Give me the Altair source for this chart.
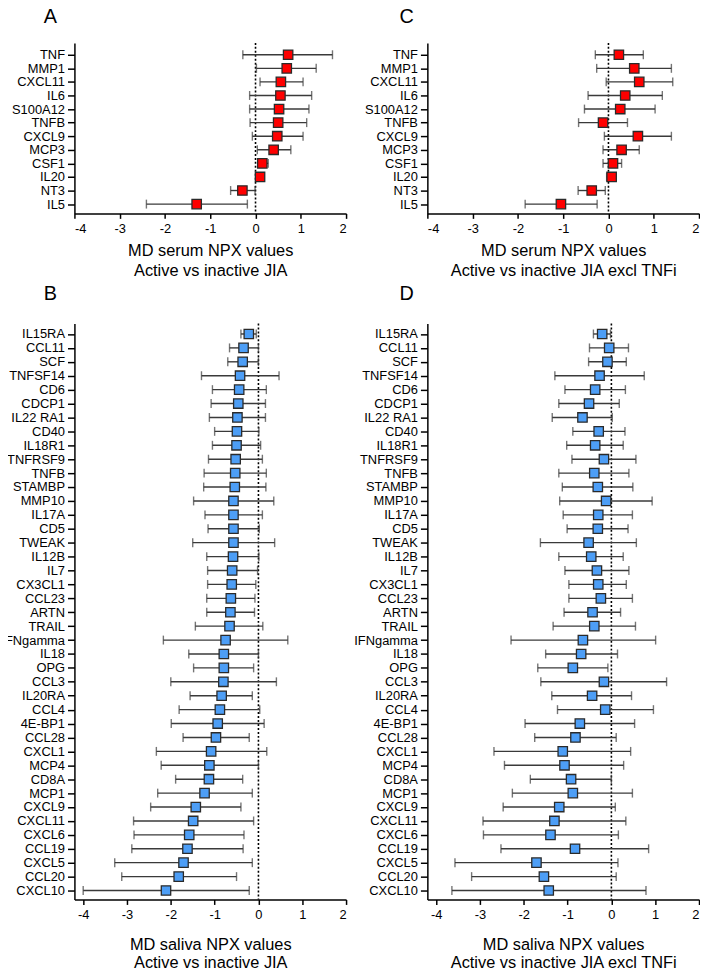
import altair as alt
import pandas as pd

# ---------------- data ----------------
serum_proteins = ["TNF", "MMP1", "CXCL11", "IL6", "S100A12", "TNFB", "CXCL9",
                  "MCP3", "CSF1", "IL20", "NT3", "IL5"]
serum_md_all = [0.72, 0.69, 0.56, 0.55, 0.52, 0.50, 0.48, 0.40, 0.15, 0.10, -0.29, -1.30]
serum_lo_all = [-0.28, 0.02, 0.10, -0.13, -0.13, -0.12, -0.07, 0.04, 0.05, 0.02, -0.55, -2.41]
serum_hi_all = [1.70, 1.34, 1.05, 1.24, 1.18, 1.13, 1.05, 0.78, 0.28, 0.17, -0.01, -0.18]

serum_md_excl = [0.23, 0.57, 0.68, 0.37, 0.26, -0.12, 0.65, 0.29, 0.10, 0.07, -0.37, -1.05]
serum_lo_excl = [-0.29, -0.26, -0.05, -0.45, -0.53, -0.66, -0.09, -0.12, -0.12, -0.04, -0.67, -1.84]
serum_hi_excl = [0.77, 1.39, 1.42, 1.19, 1.03, 0.42, 1.39, 0.68, 0.29, 0.17, -0.07, -0.25]

saliva_proteins = ["IL15RA", "CCL11", "SCF", "TNFSF14", "CD6", "CDCP1", "IL22 RA1", "CD40",
                   "IL18R1", "TNFRSF9", "TNFB", "STAMBP", "MMP10", "IL17A", "CD5", "TWEAK",
                   "IL12B", "IL7", "CX3CL1", "CCL23", "ARTN", "TRAIL", "IFNgamma", "IL18",
                   "OPG", "CCL3", "IL20RA", "CCL4", "4E-BP1", "CCL28", "CXCL1", "MCP4",
                   "CD8A", "MCP1", "CXCL9", "CXCL11", "CXCL6", "CCL19", "CXCL5", "CCL20",
                   "CXCL10"]
saliva_md_all = [-0.22, -0.34, -0.36, -0.42, -0.44, -0.46, -0.48, -0.49, -0.50, -0.52, -0.53,
                 -0.54, -0.57, -0.57, -0.57, -0.57, -0.58, -0.60, -0.61, -0.63, -0.64, -0.66,
                 -0.75, -0.79, -0.79, -0.80, -0.84, -0.88, -0.93, -0.97, -1.08, -1.12, -1.13,
                 -1.23, -1.43, -1.49, -1.58, -1.62, -1.71, -1.82, -2.11]
saliva_lo_all = [-0.40, -0.66, -0.70, -1.30, -1.05, -1.08, -1.12, -1.00, -1.05, -1.14, -1.24,
                 -1.25, -1.48, -1.22, -1.15, -1.50, -1.18, -1.16, -1.16, -1.18, -1.18, -1.44,
                 -2.17, -1.59, -1.48, -2.00, -1.56, -1.81, -1.99, -1.72, -2.33, -2.22, -1.89,
                 -2.30, -2.46, -2.85, -2.84, -2.89, -3.28, -3.12, -4.00]
saliva_hi_all = [-0.05, 0.00, 0.00, 0.47, 0.18, 0.16, 0.16, 0.01, 0.05, 0.09, 0.18,
                 0.17, 0.35, 0.09, 0.02, 0.37, 0.01, -0.02, -0.06, -0.08, -0.09, 0.10,
                 0.67, 0.00, -0.11, 0.41, -0.14, 0.03, 0.13, -0.21, 0.19, 0.00, -0.36,
                 -0.14, -0.40, -0.11, -0.33, -0.35, -0.14, -0.50, -0.21]

saliva_md_excl = [-0.21, -0.05, -0.09, -0.27, -0.37, -0.51, -0.66, -0.29, -0.37, -0.17, -0.39,
                  -0.31, -0.12, -0.30, -0.31, -0.52, -0.46, -0.33, -0.30, -0.24, -0.43, -0.39,
                  -0.65, -0.69, -0.88, -0.17, -0.44, -0.14, -0.72, -0.82, -1.11, -1.07, -0.92,
                  -0.88, -1.19, -1.30, -1.39, -0.83, -1.71, -1.54, -1.43]
saliva_lo_excl = [-0.41, -0.50, -0.52, -1.29, -1.06, -1.20, -1.35, -0.88, -1.02, -0.90, -1.20,
                  -1.12, -1.18, -1.10, -1.01, -1.62, -1.20, -1.06, -0.97, -0.97, -1.08, -1.33,
                  -2.29, -1.50, -1.68, -1.61, -1.36, -1.23, -1.97, -1.75, -2.68, -2.44, -1.85,
                  -2.26, -2.47, -2.93, -2.92, -2.52, -3.57, -3.19, -3.64]
saliva_hi_excl = [-0.02, 0.39, 0.34, 0.75, 0.32, 0.18, 0.02, 0.31, 0.27, 0.56, 0.40,
                  0.49, 0.93, 0.48, 0.38, 0.57, 0.27, 0.40, 0.34, 0.48, 0.21, 0.55,
                  1.01, 0.14, -0.08, 1.26, 0.46, 0.96, 0.53, 0.11, 0.44, 0.28, 0.00,
                  0.48, 0.09, 0.33, 0.16, 0.85, 0.15, 0.11, 0.79]

x_ticks = [-4, -3, -2, -1, 0, 1, 2]

RED = "#ff0000"
BLUE = "#4d9ef6"
FONT = "Liberation Sans"


def panel(proteins, md, lo, hi, letter, fill, title, xmin, height,
          pad, align, line_height, title_pad, letter_dx, letter_y):
    df = pd.DataFrame({"protein": proteins, "md": md, "lo": lo, "hi": hi})
    xs = alt.Scale(domain=[xmin, 2], nice=False, zero=False, padding=0)
    xa = alt.Axis(values=x_ticks, labelExpr="toString(datum.value)", title=title,
                  tickSize=5, tickWidth=1.5, domainWidth=1.5, labelPadding=4,
                  labelFontSize=13, titleFontSize=16.5, titleFontWeight="normal",
                  titlePadding=title_pad, titleLineHeight=line_height, grid=False)
    ya = alt.Axis(title=None, tickSize=7, tickWidth=1.5, domainWidth=1.5,
                  labelPadding=3, labelFontSize=13, grid=False)
    yenc = alt.Y("protein:N", sort=proteins,
                 scale=alt.Scale(type="point", padding=pad, align=align), axis=ya)
    base = alt.Chart(df)
    zero = alt.Chart(pd.DataFrame({"z": [0]})).mark_rule(
        color="black", strokeWidth=1.6, strokeDash=[2, 2]
    ).encode(x=alt.X("z:Q", scale=xs, axis=xa))
    whisk = base.mark_rule(color="#3a3a3a", strokeWidth=1.4).encode(
        x=alt.X("lo:Q", scale=xs, axis=xa), x2="hi:Q", y=yenc)
    cap_lo = base.mark_tick(color="#3a3a3a", thickness=1.4, size=9, orient="vertical").encode(
        x=alt.X("lo:Q", scale=xs, axis=xa), y=yenc)
    cap_hi = base.mark_tick(color="#3a3a3a", thickness=1.4, size=9, orient="vertical").encode(
        x=alt.X("hi:Q", scale=xs, axis=xa), y=yenc)
    sq = base.mark_square(size=90, filled=True, fill=fill, stroke="#2a2a2a",
                          strokeWidth=1.3, opacity=1).encode(
        x=alt.X("md:Q", scale=xs, axis=xa), y=yenc)
    lab = alt.Chart(pd.DataFrame({"t": [letter]})).mark_text(
        fontSize=20, align="left", baseline="alphabetic", color="black", font=FONT
    ).encode(text="t:N", x=alt.value(letter_dx), y=alt.value(letter_y))
    # invisible anchor fixing the top edge of the figure content
    anchor = alt.Chart(pd.DataFrame({"t": [letter]})).mark_rule(
        strokeWidth=0, opacity=0
    ).encode(x=alt.value(0), y=alt.value(-43), y2=alt.value(-42))
    return alt.layer(zero, whisk, cap_lo, cap_hi, sq, lab, anchor).properties(
        width=274, height=height)


serum_title_all = ["MD serum NPX values", "Active vs inactive JIA"]
serum_title_excl = ["MD serum NPX values", "Active vs inactive JIA excl TNFi"]
saliva_title_all = ["MD saliva NPX values", "Active vs inactive JIA"]
saliva_title_excl = ["MD saliva NPX values", "Active vs inactive JIA excl TNFi"]

pA = panel(serum_proteins, serum_md_all, serum_lo_all, serum_hi_all, "A", RED,
           serum_title_all, -4, 172, 0.78, 0.56, 21, 7, -31, -20)
pC = panel(serum_proteins, serum_md_excl, serum_lo_excl, serum_hi_excl, "C", RED,
           serum_title_excl, -4, 172, 0.78, 0.56, 21, 7, -28, -20)
pB = panel(saliva_proteins, saliva_md_all, saliva_lo_all, saliva_hi_all, "B", BLUE,
           saliva_title_all, -4.2, 581, 0.70, 0.54, 19, 15, -31, -24)
pD = panel(saliva_proteins, saliva_md_excl, saliva_lo_excl, saliva_hi_excl, "D", BLUE,
           saliva_title_excl, -4.2, 581, 0.70, 0.54, 19, 15, -28, -24)

chart = alt.concat(pA, pC, pB, pD, columns=2,
                   spacing={"row": 111, "column": 82}, bounds="flush").resolve_scale(
    x="independent", y="independent"
).properties(
    padding={"left": -8, "top": -12, "right": 0, "bottom": 0}
).configure(font=FONT).configure_view(stroke=None).configure_axis(
    domainColor="black", tickColor="black", labelColor="black", titleColor="black",
    labelFont=FONT, titleFont=FONT
)

chart.save("out.html", embed_options={"renderer": "svg", "actions": False})
